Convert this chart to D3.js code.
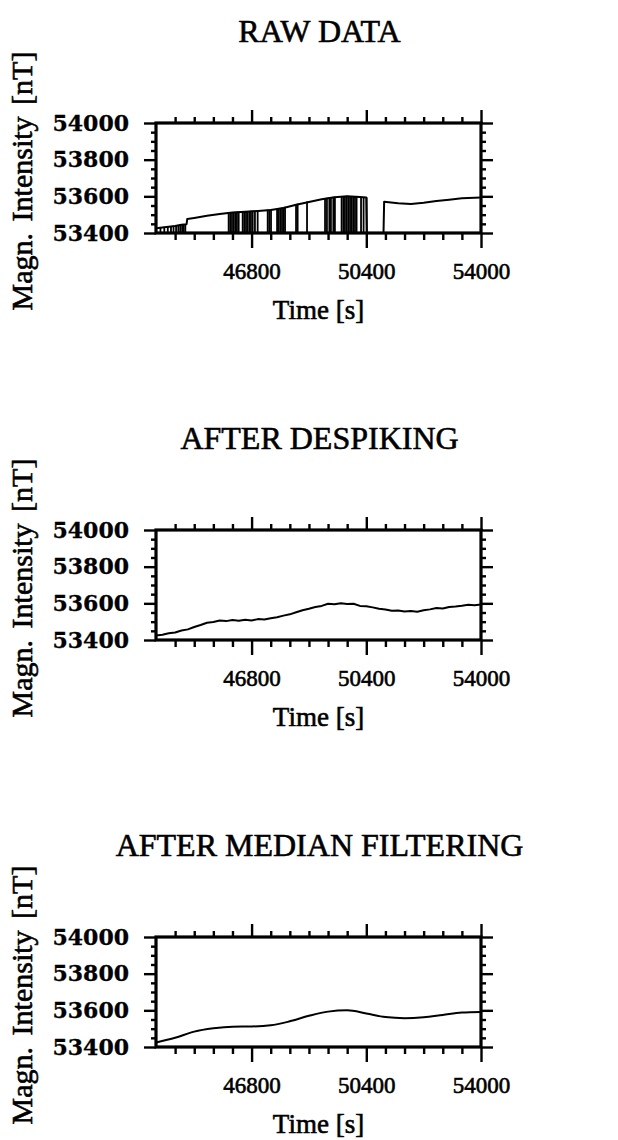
<!DOCTYPE html>
<html>
<head>
<meta charset="utf-8">
<title>Magnetic intensity processing</title>
<style>
  body { margin: 0; background: #fff; }
  svg { display: block; }
  text { fill: #000; stroke: #000; stroke-width: 0.6; }
  .title { font-family: "Liberation Serif", "Times New Roman", serif; font-size: 32px; }
  .xlabel { font-family: "Liberation Serif", "Times New Roman", serif; font-size: 27px; }
  .ylabel { font-family: "Liberation Serif", "Times New Roman", serif; font-size: 30px; word-spacing: 4px; }
  .x-axis text { font-family: "Liberation Serif", "Times New Roman", serif; font-size: 23px; }
  .y-axis text { font-family: "DejaVu Serif", serif; font-size: 22px; font-weight: bold; stroke-width: 0.3; }
  .axis path.domain { display: none; }
  .axis line { stroke: #000; stroke-width: 2.4; }
  .frame { fill: none; stroke: #000; stroke-width: 3.2; }
  .trace { fill: none; stroke: #000; stroke-width: 2; stroke-linejoin: round; }
  .spike { stroke: #000; stroke-width: 1.8; }
</style>
</head>
<body>
<script src="https://cdn.jsdelivr.net/npm/d3@7"></script>
<script>
// ---- data ----
const panelTitles = ["RAW DATA", "AFTER DESPIKING", "AFTER MEDIAN FILTERING"];
const timeDomain = [43800, 54000];
const fieldDomain = [53400, 54000];
const xMajorTicks = [46800, 50400, 54000];
const yMajorTicks = [53400, 53600, 53800, 54000];

// raw record (baseline between the spikes); 53400 = signal lost at bottom
const rawTime  = [43800, 44000, 44200, 44400, 44600, 44760, 44780, 45000, 45400, 45800,
                  46200, 46600, 47000, 47400, 47800, 48200, 48600, 49000, 49400, 49800,
                  50200, 50400, 50420, 50940, 50960, 51400, 51800, 52200, 52600, 53000,
                  53400, 53800, 54000];
const rawValue = [53426, 53430, 53434, 53438, 53445, 53448, 53476, 53482, 53494, 53504,
                  53512, 53516, 53520, 53525, 53536, 53554, 53569, 53584, 53595, 53600,
                  53596, 53594, 53400, 53400, 53570, 53562, 53558, 53565, 53575, 53582,
                  53589, 53592, 53594];

// spikes in the raw record: time and level they drop from
const spikeTime = [43940, 44060, 44170, 44270, 44350, 44430, 44500, 44560, 44620, 44670, 44720,
                   46080, 46130, 46185, 46240, 46290, 46340, 46395, 46520, 46570, 46625, 46675,
                   46730, 46780, 46835, 46905, 46990, 47305, 47355, 47410, 47600, 47650, 47700,
                   47755, 47805, 47850, 48195, 48245, 48540, 49105, 49165, 49240, 49290, 49365,
                   49415, 49625, 49680, 49730, 49785, 49835, 49890, 49940, 49990, 50045, 50095,
                   50235, 50315, 50410];
const spikeTop  = [53432, 53434, 53436, 53438, 53440, 53442, 53444, 53446, 53447, 53448, 53448,
                   53513, 53514, 53514, 53515, 53515, 53516, 53516, 53517, 53518, 53519, 53520,
                   53520, 53521, 53521, 53522, 53523, 53528, 53528, 53529, 53533, 53535, 53537,
                   53539, 53541, 53543, 53558, 53560, 53572, 53590, 53592, 53594, 53595, 53597,
                   53598, 53600, 53601, 53602, 53603, 53602, 53601, 53600, 53600, 53599, 53598,
                   53596, 53595, 53594];

// after despiking
const despikedTime  = [43800, 44000, 44200, 44400, 44600, 44800, 45000, 45200, 45400, 45600,
                       45800, 46000, 46200, 46400, 46600, 46800, 47000, 47200, 47400, 47600,
                       47800, 48000, 48200, 48400, 48600, 48800, 49000, 49200, 49400, 49600,
                       49800, 50000, 50200, 50400, 50600, 50800, 51000, 51200, 51400, 51600,
                       51800, 52000, 52200, 52400, 52600, 52800, 53000, 53200, 53400, 53600,
                       53800, 54000];
const despikedValue = [53424, 53429, 53437, 53441, 53452, 53458, 53471, 53482, 53494, 53498,
                       53506, 53503, 53509, 53505, 53511, 53506, 53514, 53512, 53519, 53524,
                       53533, 53540, 53551, 53562, 53570, 53580, 53586, 53598, 53595, 53601,
                       53597, 53598, 53586, 53584, 53578, 53570, 53566, 53559, 53561, 53556,
                       53558, 53554, 53562, 53567, 53574, 53572, 53580, 53583, 53587, 53592,
                       53590, 53594];

// after median filtering
const medianTime  = [43800, 44400, 45000, 45600, 46200, 46800, 47400, 48000, 48600, 49200,
                     49800, 50400, 51000, 51600, 52200, 52800, 53400, 54000];
const medianValue = [53424, 53450, 53484, 53502, 53511, 53512, 53518, 53540, 53570, 53593,
                     53600, 53583, 53563, 53557, 53562, 53575, 53588, 53591];

// ---- layout ----
const width = 618, height = 1140;
const frameLeft = 156, frameRight = 481, frameH = 110;
const panelTops = [123, 530, 937];

const svg = d3.select("body").append("svg")
  .attr("width", width)
  .attr("height", height);

const x = d3.scaleLinear().domain(timeDomain).range([0, frameRight - frameLeft]);
const y = d3.scaleLinear().domain(fieldDomain).range([frameH, 0]);

const xMinor = d3.range(44400, 54000, 600).filter(t => !xMajorTicks.includes(t));
const yMinor = d3.range(53400, 54000, 50).filter(v => !yMajorTicks.includes(v));

const line = d3.line().x(d => x(d[0])).y(d => y(d[1]));

svg.append("defs").append("clipPath").attr("id", "plotclip")
  .append("rect").attr("width", x.range()[1]).attr("height", frameH + 1);

function drawPanel(i, drawData) {
  const g = svg.append("g").attr("transform", `translate(${frameLeft},${panelTops[i]})`);
  const w = x.range()[1];

  // title
  g.append("text").attr("class", "title")
    .attr("x", w / 2 + 1).attr("y", -81)
    .attr("text-anchor", "middle")
    .text(panelTitles[i]);

  // data
  const plot = g.append("g").attr("clip-path", "url(#plotclip)");
  drawData(plot);

  // minor ticks on all four sides
  g.append("g").attr("class", "axis").attr("transform", `translate(0,${frameH})`)
    .call(d3.axisBottom(x).tickValues(xMinor).tickSize(7).tickFormat(""));
  g.append("g").attr("class", "axis")
    .call(d3.axisTop(x).tickValues(xMinor).tickSize(6).tickFormat(""));
  g.append("g").attr("class", "axis")
    .call(d3.axisLeft(y).tickValues(yMinor).tickSize(5).tickFormat(""));
  g.append("g").attr("class", "axis").attr("transform", `translate(${w},0)`)
    .call(d3.axisRight(y).tickValues(yMinor).tickSize(5).tickFormat(""));

  // major ticks
  const xb = g.append("g").attr("class", "axis x-axis").attr("transform", `translate(0,${frameH})`)
    .call(d3.axisBottom(x).tickValues(xMajorTicks).tickSize(15).tickPadding(15).tickFormat(d3.format("d")));
  xb.selectAll("text").attr("dy", "0.71em");
  g.append("g").attr("class", "axis")
    .call(d3.axisTop(x).tickValues(xMajorTicks).tickSize(13).tickFormat(""));
  g.append("g").attr("class", "axis y-axis")
    .call(d3.axisLeft(y).tickValues(yMajorTicks).tickSize(12).tickPadding(15).tickFormat(d3.format("d")));
  g.append("g").attr("class", "axis").attr("transform", `translate(${w},0)`)
    .call(d3.axisRight(y).tickValues(yMajorTicks).tickSize(12).tickFormat(""));

  // frame
  g.append("rect").attr("class", "frame")
    .attr("width", w).attr("height", frameH);

  // axis titles
  g.append("text").attr("class", "xlabel")
    .attr("x", w / 2).attr("y", frameH + 86)
    .attr("text-anchor", "middle")
    .text("Time [s]");
  g.append("text").attr("class", "ylabel")
    .attr("transform", `translate(${22 - frameLeft + 10},${frameH / 2 + 3}) rotate(-90)`)
    .attr("text-anchor", "middle")
    .text("Magn. Intensity [nT]");
}

// panel 1: raw data with spikes
drawPanel(0, plot => {
  plot.append("path").attr("class", "trace")
    .datum(d3.zip(rawTime, rawValue))
    .attr("d", line);
  plot.selectAll("line.spike")
    .data(d3.zip(spikeTime, spikeTop))
    .join("line")
    .attr("class", "spike")
    .attr("x1", d => x(d[0])).attr("x2", d => x(d[0]))
    .attr("y1", d => y(d[1])).attr("y2", y(fieldDomain[0]));
});

// panel 2: despiked
drawPanel(1, plot => {
  plot.append("path").attr("class", "trace")
    .datum(d3.zip(despikedTime, despikedValue))
    .attr("d", line);
});

// panel 3: median filtered
drawPanel(2, plot => {
  plot.append("path").attr("class", "trace")
    .datum(d3.zip(medianTime, medianValue))
    .attr("d", line.curve(d3.curveMonotoneX));
});
</script>
</body>
</html>
